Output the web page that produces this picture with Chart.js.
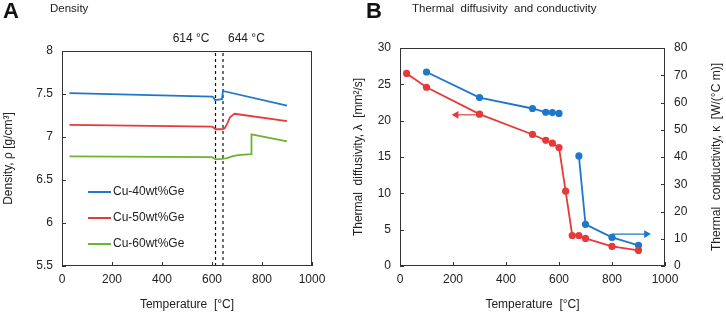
<!DOCTYPE html>
<html>
<head>
<meta charset="utf-8">
<script src="https://cdn.jsdelivr.net/npm/chart.js@4.4.1/dist/chart.umd.min.js"></script>
<style>
  body { margin: 0; background: #fff; font-family: "Liberation Sans", Arial, sans-serif; }
  #wrap { position: relative; width: 726px; height: 316px; overflow: hidden; }
  canvas { position: absolute; top: 0; }
  .panel { position: absolute; top: 0; font-weight: bold; font-size: 22px; line-height: 22px; color: #111; }
  .ptitle { position: absolute; top: 1px; font-size: 11.5px; line-height: 14px; color: #222; }
</style>
</head>
<body>
<div id="wrap">
  <canvas id="chartA" width="345" height="316" style="left:0"></canvas>
  <canvas id="chartB" width="381" height="316" style="left:345px"></canvas>
  <div class="panel" style="left:3px">A</div>
  <div class="ptitle" style="left:50px">Density</div>
  <div class="panel" style="left:366px">B</div>
  <div class="ptitle" style="left:412px">Thermal&nbsp; diffusivity&nbsp; and conductivity</div>
</div>
<script>
// --- Panel A: density ---
const tempMin = 0;
const tempMax = 1000;
const densityMin = 5.5;
const densityMax = 8;

const cu40Temp = [30, 600, 606, 612, 640, 644, 900];
const cu40Density = [7.51, 7.47, 7.46, 7.43, 7.44, 7.535, 7.365];
const cu50Temp = [30, 600, 606, 614, 640, 650, 660, 672, 690, 900];
const cu50Density = [7.14, 7.12, 7.11, 7.09, 7.09, 7.1, 7.15, 7.23, 7.27, 7.185];
const cu60Temp = [30, 600, 606, 614, 640, 660, 680, 705, 756, 758, 900];
const cu60Density = [6.775, 6.765, 6.755, 6.74, 6.745, 6.755, 6.775, 6.79, 6.8, 7.03, 6.95];
const phaseTemps = [614, 644];

// --- Panel B: diffusivity (left axis) and conductivity (right axis) ---
const diffTemp = [25, 100, 300, 500, 550, 575, 600, 625, 650, 675, 700, 800, 900];
const diffValues = [26.5, 24.6, 20.9, 18.1, 17.3, 16.9, 16.3, 10.3, 4.2, 4.2, 3.8, 2.7, 2.15];
const condTemp = [100, 300, 500, 550, 575, 600, 640, 675, 700, 800, 900];
const condValues = [71.2, 61.8, 57.8, 56.4, 56.3, 56.0, null, 40.4, 15.3, 10.5, 7.6];
// arrows telling which axis each curve belongs to
const diffArrowTemp = [300, 212];
const diffArrowValue = [20.8, 20.8];
const condArrowTemp = [800, 930];
const condArrowValue = [11.7, 11.7];

const blue = "#1f77c8";
const red = "#e63a3a";
const green = "#6cb330";
const font = "'Liberation Sans', Arial, sans-serif";

Chart.defaults.font.family = font;
Chart.defaults.color = "#222";

function pts(xs, ys) {
  return xs.map((x, i) => ({ x: x, y: ys[i] }));
}
const plain = (v) => String(v);

// box round the plot + small ticks pointing inward
const frame = {
  id: "frame",
  afterDraw(chart) {
    const ctx = chart.ctx;
    const a = chart.chartArea;
    ctx.save();
    ctx.strokeStyle = "#333";
    ctx.lineWidth = 1;
    ctx.strokeRect(Math.round(a.left) + 0.5, Math.round(a.top) + 0.5, Math.round(a.width) - 1, Math.round(a.height) - 1);
    ctx.beginPath();
    Object.values(chart.scales).forEach((s) => {
      s.ticks.forEach((t) => {
        const p = Math.round(s.getPixelForValue(t.value)) + 0.5;
        if (s.axis === "x") {
          ctx.moveTo(p, a.bottom);
          ctx.lineTo(p, a.bottom - 4);
        } else if (s.position === "left") {
          ctx.moveTo(a.left, p);
          ctx.lineTo(a.left + 4, p);
        } else {
          ctx.moveTo(a.right, p);
          ctx.lineTo(a.right - 4, p);
        }
      });
    });
    ctx.stroke();
    ctx.restore();
  },
};

// legend inside plot A and the 614 / 644 labels
const densityExtras = {
  id: "densityExtras",
  afterDraw(chart) {
    const ctx = chart.ctx;
    const x = chart.scales.x;
    const a = chart.chartArea;
    ctx.save();
    ctx.font = "12px " + font;
    ctx.fillStyle = "#222";
    ctx.textBaseline = "middle";
    ctx.textAlign = "right";
    ctx.fillText(phaseTemps[0] + " °C", x.getPixelForValue(phaseTemps[0]) - 6, a.top - 12);
    ctx.textAlign = "left";
    ctx.fillText(phaseTemps[1] + " °C", x.getPixelForValue(phaseTemps[1]) + 5, a.top - 12);
    let row = 0;
    chart.data.datasets.forEach((ds) => {
      if (!ds.label) return;
      const y = 192 + row * 26;
      ctx.strokeStyle = ds.borderColor;
      ctx.lineWidth = 2;
      ctx.beginPath();
      ctx.moveTo(88, y);
      ctx.lineTo(111, y);
      ctx.stroke();
      ctx.fillText(ds.label, 113, y);
      row++;
    });
    ctx.restore();
  },
};

// right axis title of B reads bottom to top like the left one
const rightTitle = {
  id: "rightTitle",
  afterDraw(chart) {
    const ctx = chart.ctx;
    const a = chart.chartArea;
    ctx.save();
    ctx.font = "12px " + font;
    ctx.fillStyle = "#222";
    ctx.textAlign = "center";
    ctx.textBaseline = "middle";
    ctx.translate(372, (a.top + a.bottom) / 2);
    ctx.rotate(-Math.PI / 2);
    ctx.fillText("Thermal  conductivity, κ  [W/(°C m)]", 0, 0);
    ctx.restore();
  },
};

const lineA = (label, xs, ys, color) => ({
  label: label,
  data: pts(xs, ys),
  borderColor: color,
  borderWidth: 1.8,
  pointRadius: 0,
  tension: 0,
});

const dashDatasets = phaseTemps.map((t) => ({
  data: pts([t, t], [densityMin, densityMax]),
  borderColor: "#111",
  borderWidth: 1.2,
  borderDash: [3, 3],
  pointRadius: 0,
}));

new Chart(document.getElementById("chartA"), {
  type: "line",
  data: {
    datasets: [
      lineA("Cu-40wt%Ge", cu40Temp, cu40Density, blue),
      lineA("Cu-50wt%Ge", cu50Temp, cu50Density, red),
      lineA("Cu-60wt%Ge", cu60Temp, cu60Density, green),
      ...dashDatasets,
    ],
  },
  options: {
    responsive: false,
    animation: false,
    devicePixelRatio: 1,
    layout: { padding: { top: 51, right: 33, left: 0, bottom: 0 } },
    plugins: { legend: { display: false }, tooltip: { enabled: false } },
    scales: {
      x: {
        type: "linear",
        min: tempMin,
        max: tempMax,
        grid: { display: false, drawTicks: false },
        border: { display: false },
        ticks: { stepSize: 200, padding: 6, font: { size: 12 }, callback: plain },
        title: { display: true, text: "Temperature  [°C]", font: { size: 12 }, padding: { top: 4, bottom: 4 } },
        afterFit: (s) => { s.height = 50; },
      },
      y: {
        min: densityMin,
        max: densityMax,
        grid: { display: false, drawTicks: false },
        border: { display: false },
        ticks: { stepSize: 0.5, padding: 9, font: { size: 12 }, callback: plain },
        title: { display: true, text: "Density, ρ [g/cm³]", font: { size: 12 }, padding: { top: 1, bottom: 0 } },
        afterFit: (s) => { s.width = 62; },
      },
    },
  },
  plugins: [frame, densityExtras],
});

const markerLine = (xs, ys, color, axis) => ({
  data: pts(xs, ys),
  borderColor: color,
  backgroundColor: color,
  borderWidth: 1.8,
  pointRadius: 3.6,
  pointBorderWidth: 0,
  yAxisID: axis,
  spanGaps: false,
});

const arrow = (xs, ys, color, axis, rot) => ({
  data: pts(xs, ys),
  borderColor: color,
  backgroundColor: color,
  borderWidth: 1.2,
  pointStyle: "triangle",
  pointRadius: [0, 4.5],
  pointRotation: [0, rot],
  pointBorderWidth: 0,
  yAxisID: axis,
});

new Chart(document.getElementById("chartB"), {
  type: "line",
  data: {
    datasets: [
      markerLine(diffTemp, diffValues, red, "y"),
      markerLine(condTemp, condValues, blue, "y2"),
      arrow(diffArrowTemp, diffArrowValue, red, "y", 270),
      arrow(condArrowTemp, condArrowValue, blue, "y2", 90),
    ],
  },
  options: {
    responsive: false,
    animation: false,
    devicePixelRatio: 1,
    layout: { padding: { top: 48, right: 0, left: 0, bottom: 0 } },
    plugins: { legend: { display: false }, tooltip: { enabled: false } },
    scales: {
      x: {
        type: "linear",
        min: tempMin,
        max: tempMax,
        grid: { display: false, drawTicks: false },
        border: { display: false },
        ticks: { stepSize: 200, padding: 6, font: { size: 12 }, callback: plain },
        title: { display: true, text: "Temperature  [°C]", font: { size: 12 }, padding: { top: 4, bottom: 4 } },
        afterFit: (s) => { s.height = 50; },
      },
      y: {
        position: "left",
        min: 0,
        max: 30,
        grid: { display: false, drawTicks: false },
        border: { display: false },
        ticks: { stepSize: 5, padding: 9, font: { size: 12 }, callback: plain },
        title: { display: true, text: "Thermal  diffusivity, λ  [mm²/s]", font: { size: 12 }, padding: { top: 6, bottom: 0 } },
        afterFit: (s) => { s.width = 55; },
      },
      y2: {
        position: "right",
        min: 0,
        max: 80,
        grid: { display: false, drawTicks: false },
        border: { display: false },
        ticks: { stepSize: 10, padding: 9, font: { size: 12 }, callback: plain },
        afterFit: (s) => { s.width = 61; },
      },
    },
  },
  plugins: [frame, rightTitle],
});
</script>
</body>
</html>
